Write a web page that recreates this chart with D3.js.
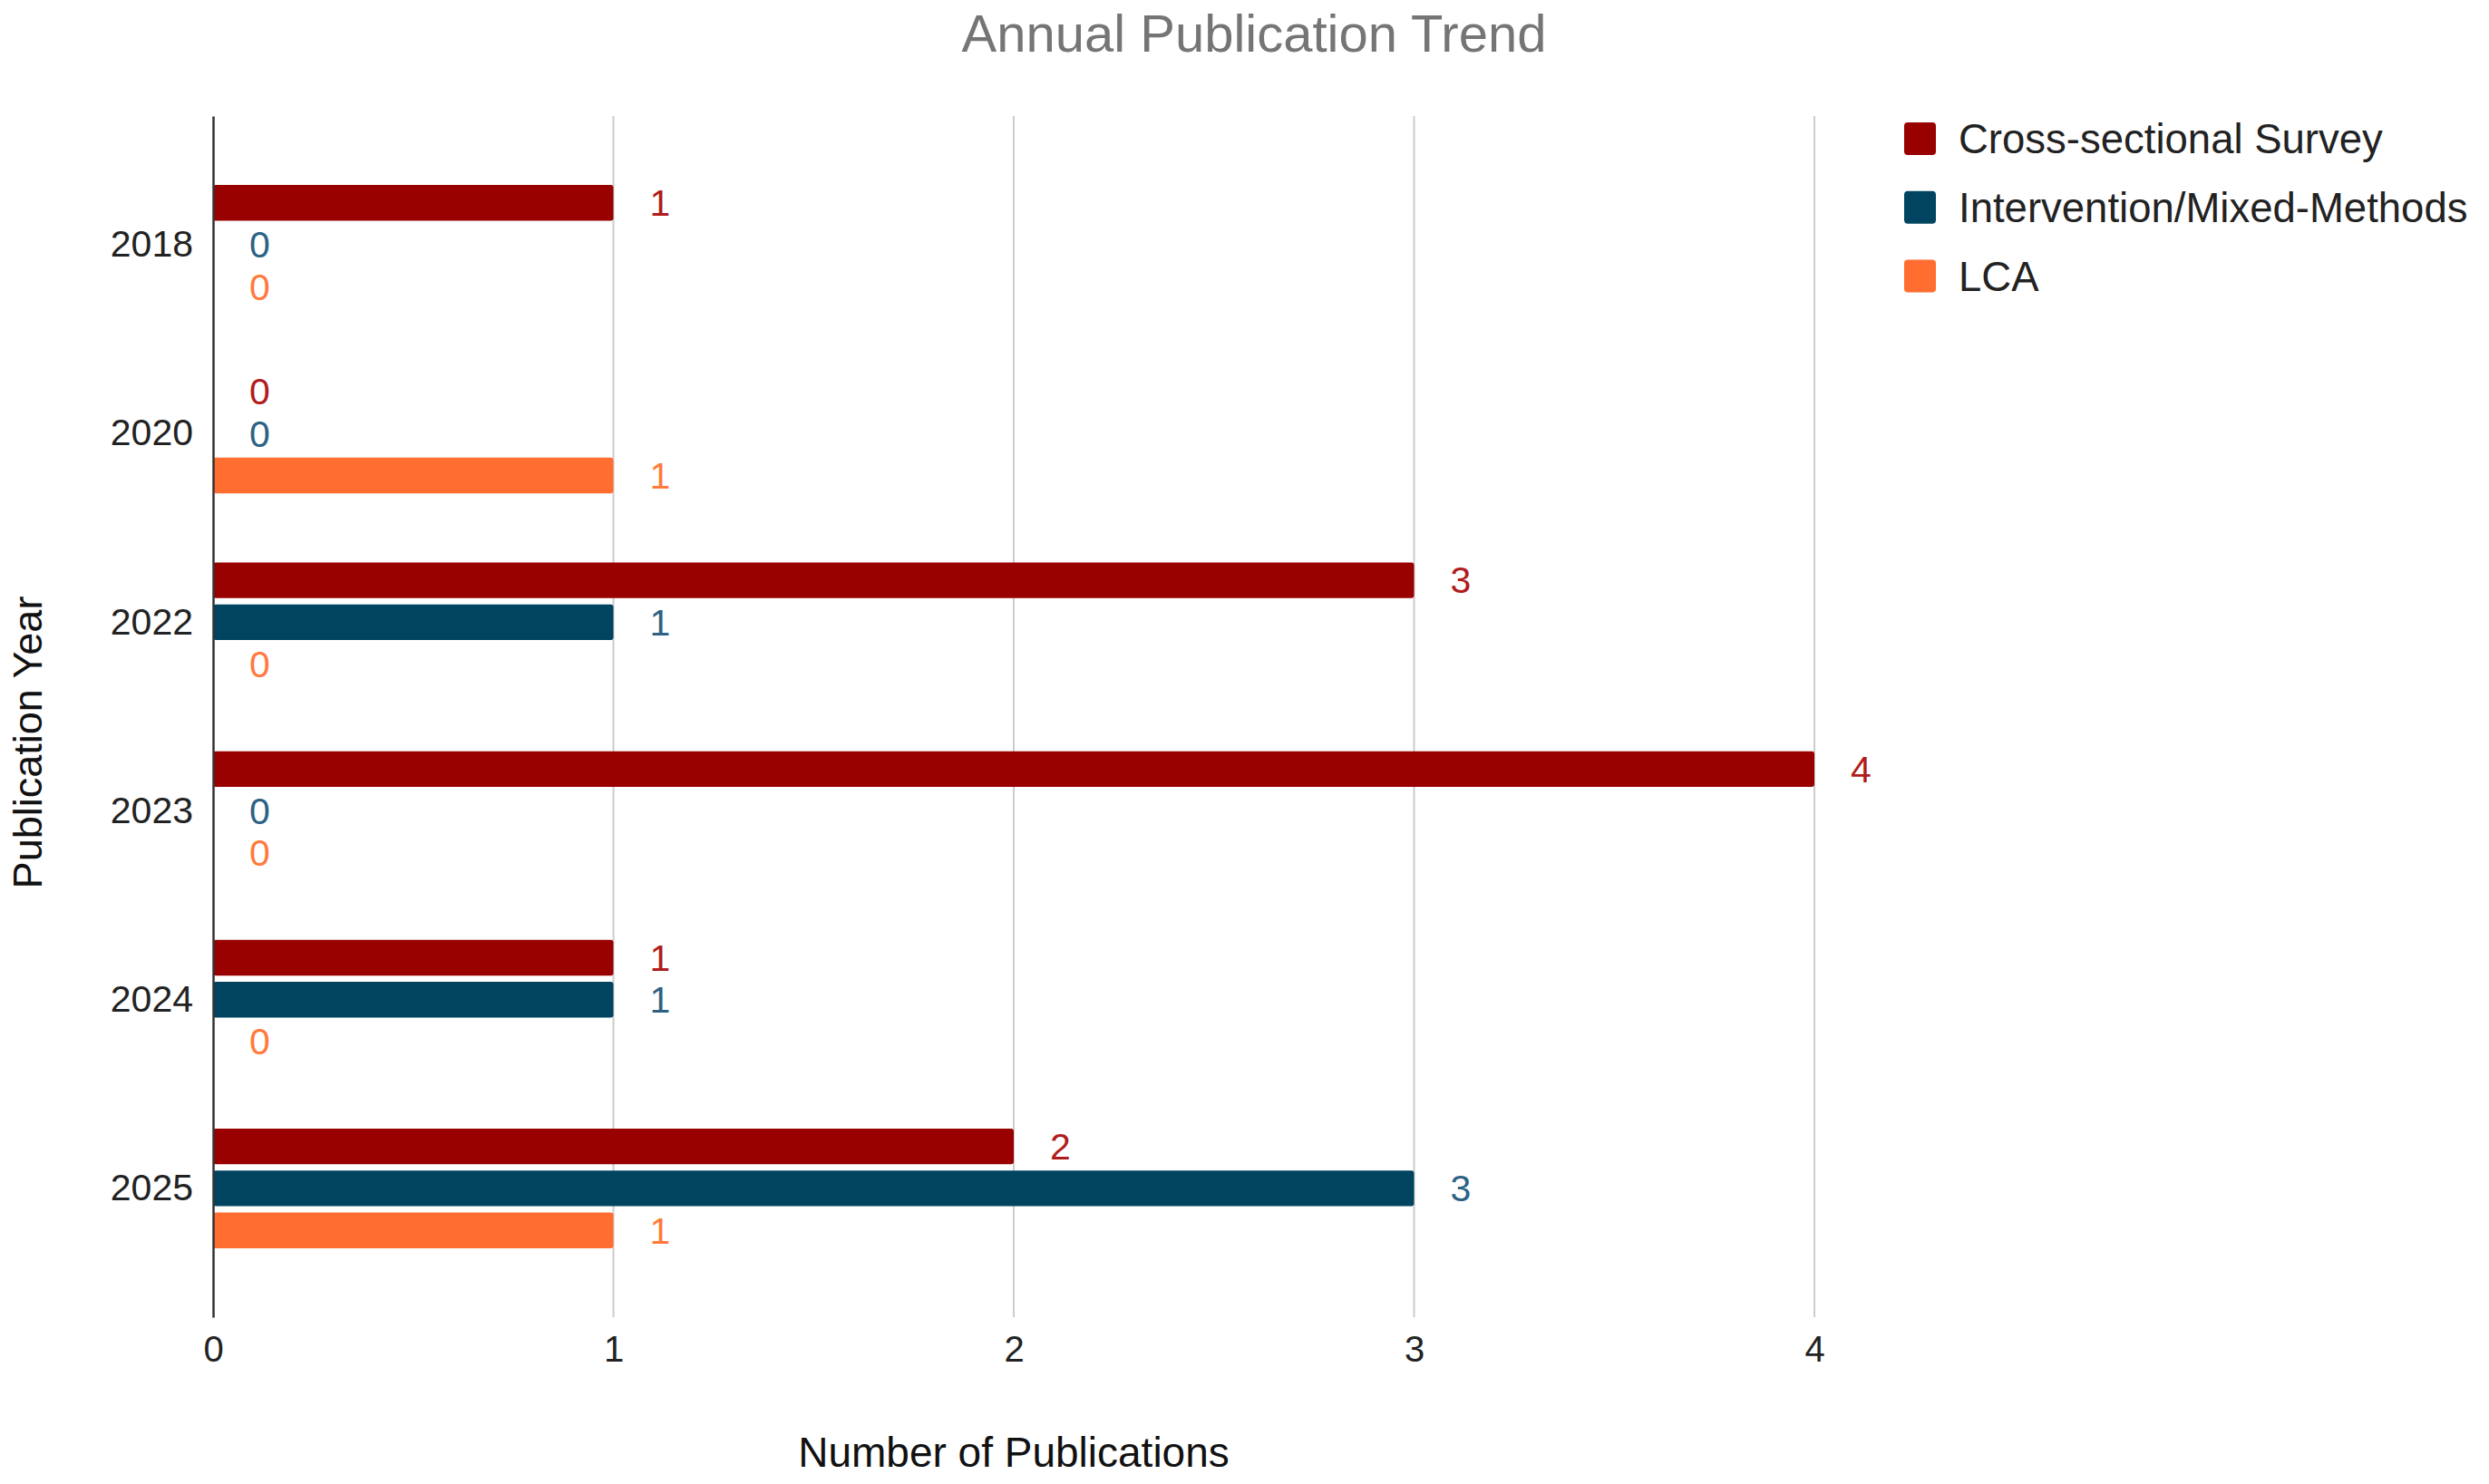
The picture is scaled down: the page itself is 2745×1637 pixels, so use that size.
<!DOCTYPE html>
<html>
<head>
<meta charset="utf-8">
<script src="https://cdn.jsdelivr.net/npm/d3@7"></script>
<style>
  html, body { margin: 0; padding: 0; background: #ffffff; }
  svg { display: block; }
</style>
</head>
<body>
<script>
// ---- data ----
const years = ["2018", "2020", "2022", "2023", "2024", "2025"];
const seriesNames = ["Cross-sectional Survey", "Intervention/Mixed-Methods", "LCA"];
const crossSectional = [1, 0, 3, 4, 1, 2];
const interventionMixed = [0, 0, 1, 0, 1, 3];
const lca = [0, 1, 0, 0, 0, 1];
const xTicks = [0, 1, 2, 3, 4];
const titleText = "Annual Publication Trend";
const xTitle = "Number of Publications";
const yTitle = "Publication Year";

const barColors = ["#990000", "#00445f", "#ff6d31"];
const labelColors = ["#b01c1c", "#2d6284", "#ff7a3c"];

const W = 2745, H = 1637;
const margin = { left: 235, right: 744, top: 128, bottom: 184 };
const font = "'Liberation Sans', Arial, sans-serif";

const svg = d3.select("body").append("svg")
  .attr("width", W).attr("height", H)
  .style("font-family", font);

const x = d3.scaleLinear().domain([0, 4]).range([margin.left, W - margin.right]);
const y = d3.scaleBand().domain(years).range([margin.top, H - margin.bottom])
  .paddingInner(0.333).paddingOuter(0.349);
const ySub = d3.scaleBand().domain(d3.range(3)).range([0, y.bandwidth()])
  .paddingInner(0.15).paddingOuter(0.075);

const valuesBySeries = [crossSectional, interventionMixed, lca];
const rows = years.map((yr, i) => ({ year: yr, vals: valuesBySeries.map(s => s[i]) }));

// gridlines
svg.append("g")
  .selectAll("line")
  .data(xTicks.filter(d => d > 0))
  .join("line")
  .attr("x1", d => x(d)).attr("x2", d => x(d))
  .attr("y1", margin.top).attr("y2", H - margin.bottom)
  .attr("stroke", "#cccccc").attr("stroke-width", 2);

// x tick labels
const xAxis = d3.axisBottom(x).tickValues(xTicks).tickSize(0).tickPadding(0).tickFormat(d3.format("d"));
const gx = svg.append("g").attr("transform", `translate(0, ${H - margin.bottom + 35})`).call(xAxis);
gx.select(".domain").remove();
gx.selectAll("text").attr("font-size", 40).attr("fill", "#222").attr("font-family", font).attr("dy", "0.35em");

// bars
const groups = svg.append("g").selectAll("g")
  .data(rows).join("g")
  .attr("transform", d => `translate(0, ${y(d.year)})`);

groups.selectAll("rect")
  .data(d => d.vals.map((v, k) => ({ v, k })))
  .join("rect")
  .filter(d => d.v > 0)
  .attr("x", x(0))
  .attr("y", d => ySub(d.k))
  .attr("width", d => x(d.v) - x(0))
  .attr("height", ySub.bandwidth())
  .attr("rx", 3)
  .attr("fill", d => barColors[d.k]);

groups.selectAll("text.val")
  .data(d => d.vals.map((v, k) => ({ v, k })))
  .join("text")
  .attr("class", "val")
  .attr("x", d => x(d.v) + 40)
  .attr("y", d => ySub(d.k) + ySub.bandwidth() / 2)
  .attr("dy", "0.35em")
  .attr("font-size", 41)
  .attr("fill", d => labelColors[d.k])
  .text(d => d.v);

// y axis
const yAxis = d3.axisLeft(y).tickSize(0).tickPadding(22);
const gy = svg.append("g").attr("transform", `translate(${margin.left}, 0)`).call(yAxis);
gy.select(".domain").attr("stroke", "#333").attr("stroke-width", 2.5);
gy.selectAll("text").attr("font-size", 41).attr("fill", "#222").attr("font-family", font);

// title
svg.append("text")
  .attr("x", 1383).attr("y", 57)
  .attr("text-anchor", "middle")
  .attr("font-size", 58).attr("fill", "#757575")
  .text(titleText);

// axis titles
svg.append("text")
  .attr("x", (x(0) + x(4)) / 2).attr("y", 1618)
  .attr("text-anchor", "middle")
  .attr("font-size", 46).attr("fill", "#111")
  .text(xTitle);

svg.append("text")
  .attr("transform", `translate(46, 819) rotate(-90)`)
  .attr("text-anchor", "middle")
  .attr("font-size", 45).attr("fill", "#111")
  .text(yTitle);

// legend
const legend = svg.append("g").attr("transform", "translate(2100, 153)");
const li = legend.selectAll("g").data(seriesNames).join("g")
  .attr("transform", (d, i) => `translate(0, ${i * 75.7})`);
li.append("rect").attr("x", 0).attr("y", -18).attr("width", 35).attr("height", 36)
  .attr("rx", 4).attr("fill", (d, i) => barColors[i]);
li.append("text").attr("x", 60).attr("dy", "0.36em")
  .attr("font-size", 45.5).attr("fill", "#222").text(d => d);
</script>
</body>
</html>
